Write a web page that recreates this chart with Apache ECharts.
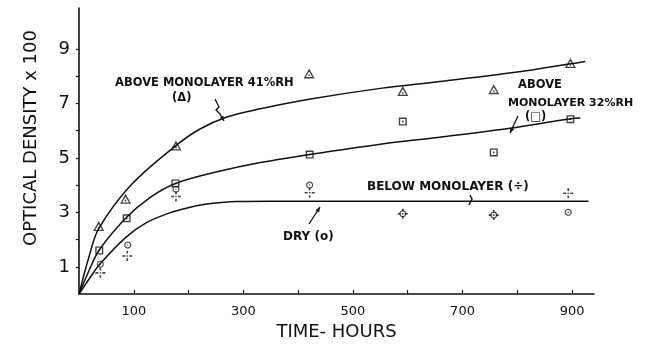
<!DOCTYPE html>
<html><head><meta charset="utf-8">
<script src="https://cdn.jsdelivr.net/npm/echarts@6/dist/echarts.min.js"></script>
<style>html,body{margin:0;padding:0;background:#fff}#c{width:654px;height:346px}</style>
</head><body><div id="c"></div>
<script>
// ---- axis ticks / labels ----
const xTickValues = [100, 200, 300, 400, 500, 600, 700, 800, 900];
const xLabelValues = [100, 300, 500, 700, 900];
const yTickValues = [1, 2, 3, 4, 5, 6, 7, 8, 9];
const yLabelValues = [1, 3, 5, 7, 9];

// ---- measured points ----
const tri41X = [36, 85, 177, 420, 591, 757, 897];
const tri41Y = [2.5, 3.5, 5.45, 8.1, 7.45, 7.52, 8.48];
const sq32X = [37, 87, 176, 421, 591, 757, 897];
const sq32Y = [1.6, 2.78, 4.06, 5.12, 6.33, 5.2, 6.42];
const dryX = [39, 89, 177, 421, 591, 757, 893];
const dryY = [1.1, 1.8, 3.85, 4.0, 2.95, 2.9, 3.0];
const belowX = [39, 88, 177, 421, 591, 757, 893];
const belowY = [0.78, 1.4, 3.58, 3.72, 2.95, 2.9, 3.7];

// ---- fitted curves as drawn ----
const curve41X = [0, 18, 36, 95, 177, 220, 270, 331, 420, 550, 659, 800, 897, 924];
const curve41Y = [0, 1.35, 2.4, 4.0, 5.45, 6.05, 6.5, 6.8, 7.15, 7.55, 7.8, 8.15, 8.45, 8.54];
const curve32X = [0, 18, 37, 86, 130, 176, 250, 331, 420, 550, 659, 787, 895, 915];
const curve32Y = [0, 0.85, 1.62, 2.8, 3.55, 4.06, 4.48, 4.83, 5.12, 5.5, 5.76, 6.09, 6.43, 6.46];
const curveBelowX = [0, 20, 39, 86, 124, 167, 196, 227, 288, 350, 930];
const curveBelowY = [0, 0.6, 1.12, 2.09, 2.63, 2.99, 3.15, 3.29, 3.40, 3.41, 3.41];

const pairs = (xs, ys) => xs.map((x, i) => [x, ys[i]]);

// symbols
const SQ = 'path://M0,0H10V10H0Z M1.7,1.7V8.3H8.3V1.7Z M4,4H6V6H4Z';
const TRI = 'path://M5,0L10,9L0,9Z M5,2.7L1.9,7.8L8.1,7.8Z M4.3,5.5H5.7V6.9H4.3Z';
const PLUS = 'path://M4.2,0H5.8V2.6H4.2Z M4.2,7.4H5.8V10H4.2Z M0,4.2H3V5.8H0Z M7,4.2H10V5.8H7Z M4.3,4.3H5.7V5.7H4.3Z';
function ringPath() {
  const n = 24; let s = 'path://';
  for (let i = 0; i < n; i++) { const a = 2 * Math.PI * i / n; s += (i ? 'L' : 'M') + (5 + 5 * Math.cos(a)).toFixed(3) + ',' + (5 + 5 * Math.sin(a)).toFixed(3); }
  s += 'Z ';
  for (let i = 0; i < n; i++) { const a = -2 * Math.PI * i / n; s += (i ? 'L' : 'M') + (5 + 3.4 * Math.cos(a)).toFixed(3) + ',' + (5 + 3.4 * Math.sin(a)).toFixed(3); }
  s += 'Z M4.2,4.2H5.8V5.8H4.2Z';
  return s;
}
const RING = ringPath();

const FONT = 'DejaVu Sans';
const INK = '#111';

function arrowGraphics(points) {
  const n = points.length;
  const [x2, y2] = points[n - 1], [x1, y1] = points[n - 2];
  const a = Math.atan2(y2 - y1, x2 - x1), L = 5, W = 2.2;
  const c = Math.cos(a), s = Math.sin(a);
  return [
    { type: 'polyline', shape: { points: points }, style: { stroke: INK, lineWidth: 1.3, fill: null } },
    { type: 'polygon', shape: { points: [[x2, y2], [x2 - L * c + W * s, y2 - L * s - W * c], [x2 - L * c - W * s, y2 - L * s + W * c]] }, style: { fill: INK } }
  ];
}
function label(text, x, y, size, align) {
  return { type: 'text', x: x, y: y, style: { text: text, fill: INK, font: 'bold ' + size + 'px "' + FONT + '"', align: align || 'left', verticalAlign: 'middle' } };
}

const chart = echarts.init(document.getElementById('c'), null, { renderer: 'canvas' });
const lineStyle = { color: INK, width: 1.5 };
const option = {
  animation: false,
  backgroundColor: '#fff',
  grid: { left: 79, right: 60, top: 8, bottom: 44, containLabel: false },
  xAxis: {
    type: 'value', min: 0, max: 940, interval: 100,
    axisLine: { show: true, lineStyle: { color: INK, width: 1.6 } },
    axisTick: { show: true, inside: true, length: 4, customValues: xTickValues, lineStyle: { color: INK, width: 1.2 } },
    axisLabel: { customValues: xLabelValues, color: INK, fontFamily: FONT, fontSize: 13, margin: 11 },
    splitLine: { show: false },
    name: 'TIME- HOURS', nameLocation: 'middle', nameGap: 27,
    nameTextStyle: { color: INK, fontFamily: FONT, fontSize: 18 }
  },
  yAxis: {
    type: 'value', min: 0, max: 10.5, interval: 1,
    axisLine: { show: true, lineStyle: { color: INK, width: 1.6 } },
    axisTick: { show: true, inside: false, length: 3, customValues: yTickValues, lineStyle: { color: INK, width: 1.2 } },
    axisLabel: { customValues: yLabelValues, color: INK, fontFamily: FONT, fontSize: 18, margin: 9 },
    splitLine: { show: false }
  },
  series: [
    { type: 'line', data: pairs(curve41X, curve41Y), showSymbol: false, symbol: 'none', smooth: 0.35, lineStyle: lineStyle, z: 2 },
    { type: 'line', data: pairs(curve32X, curve32Y), showSymbol: false, symbol: 'none', smooth: 0.35, lineStyle: lineStyle, z: 2 },
    { type: 'line', data: pairs(curveBelowX, curveBelowY), showSymbol: false, symbol: 'none', smooth: 0.35, lineStyle: lineStyle, z: 2 },
    { type: 'scatter', data: pairs(tri41X, tri41Y), symbol: TRI, symbolSize: [11, 10], itemStyle: { color: INK }, z: 3 },
    { type: 'scatter', data: pairs(sq32X, sq32Y), symbol: SQ, symbolSize: 8, itemStyle: { color: INK }, z: 3 },
    { type: 'scatter', data: pairs(dryX, dryY), symbol: RING, symbolSize: 7, itemStyle: { color: INK }, z: 3 },
    { type: 'scatter', data: pairs(belowX, belowY), symbol: PLUS, symbolSize: 10, itemStyle: { color: INK }, z: 3 }
  ],
  graphic: [
    { type: 'text', x: 31, y: 138, rotation: Math.PI / 2, style: { text: 'OPTICAL DENSITY x 100', fill: INK, font: '18px "' + FONT + '"', align: 'center', verticalAlign: 'middle' } },
    label('ABOVE MONOLAYER 41%RH', 115, 83, 11.5),
    label('(Δ)', 172, 98, 11.5),
    label('ABOVE', 518, 85, 11.5),
    label('MONOLAYER 32%RH', 508, 103, 11),
    label('(□)', 525, 117, 11.5),
    label('BELOW MONOLAYER (÷)', 367, 187, 12),
    label('DRY (o)', 283, 237, 12)
  ]
    .concat(arrowGraphics([[215, 99], [219, 107], [216, 110], [220, 114], [224, 121]]))
    .concat(arrowGraphics([[518, 116], [510, 133]]))
    .concat([{ type: 'polyline', shape: { points: [[470, 195], [472, 199], [469, 205]] }, style: { stroke: INK, lineWidth: 1.5, fill: null } }])
    .concat(arrowGraphics([[309, 224], [320, 207]]))
};
chart.setOption(option);
</script>
</body></html>
